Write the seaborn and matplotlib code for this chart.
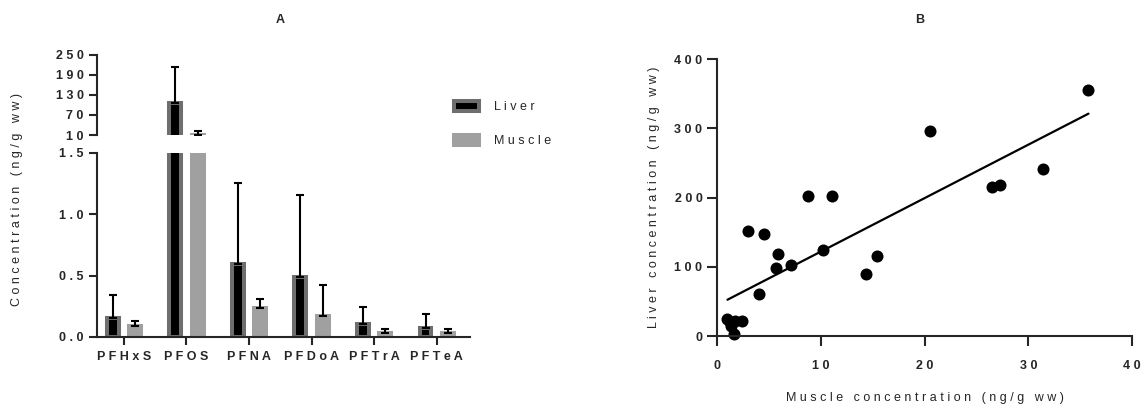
import numpy as np
import pandas as pd
import seaborn as sns
import matplotlib.pyplot as plt

# Panel A data (means and upward SD)
compounds = ['PFHxS', 'PFOS', 'PFNA', 'PFDoA', 'PFTrA', 'PFTeA']
compound_labels = ['P F H x S', 'P F O S', 'P F N A', 'P F D o A', 'P F T r A', 'P F T e A']
tissues = ['Liver', 'Muscle']
tissue_labels = ['L i v e r', 'M u s c l e']
liver_mean = [0.155, 106, 0.595, 0.49, 0.105, 0.075]
liver_sd = [0.185, 109, 0.66, 0.67, 0.14, 0.115]
muscle_mean = [0.09, 10.5, 0.235, 0.175, 0.03, 0.035]
muscle_sd = [0.04, 11.5, 0.075, 0.245, 0.035, 0.027]

upper_ticks = [10, 70, 130, 190, 250]
upper_ticklabels = ['1 0', '7 0', '1 3 0', '1 9 0', '2 5 0']
lower_ticks = [0, 0.5, 1.0, 1.5]
lower_ticklabels = ['0 . 0', '0 . 5', '1 . 0', '1 . 5']

# Panel B data
muscle_conc = [8.8, 11.1, 3.0, 4.5, 20.5, 10.2, 5.9, 5.7, 7.1, 4.0, 14.4, 15.4,
               1.0, 1.3, 1.7, 2.4, 1.6, 1.2, 35.8, 31.4, 26.5, 27.3]
liver_conc = [202, 202, 152, 148, 296, 124, 118, 98, 102, 60, 89, 116,
              25, 14, 22, 22, 3, 20, 355, 241, 215, 218]
b_xticks = [0, 10, 20, 30, 40]
b_xticklabels = ['0', '1 0', '2 0', '3 0', '4 0']
b_yticks = [0, 100, 200, 300, 400]
b_yticklabels = ['0', '1 0 0', '2 0 0', '3 0 0', '4 0 0']

df = pd.DataFrame({
    'compound': compounds * 2,
    'tissue': ['Liver'] * 6 + ['Muscle'] * 6,
    'mean': liver_mean + muscle_mean,
    'sd': liver_sd + muscle_sd,
})

sns.set_style('ticks')
plt.rcParams['font.family'] = ['Liberation Sans', 'DejaVu Sans']
plt.rcParams['axes.linewidth'] = 1.5

palette = {'Liver': 'black', 'Muscle': '#a0a0a0'}
edge_colors = ['#6e6e6e', '#a0a0a0']

fig = plt.figure(figsize=(11.42, 4.07), dpi=100)
ax_top = fig.add_axes([0.0849, 0.6683, 0.3266, 0.1966])
ax_bot = fig.add_axes([0.0849, 0.1720, 0.3266, 0.4521])
ax_b = fig.add_axes([0.6279, 0.1744, 0.3634, 0.6806])


def draw_bars(ax):
    sns.barplot(data=df, x='compound', y='mean', hue='tissue', order=compounds,
                hue_order=tissues, palette=palette, width=0.72, gap=0.47,
                errorbar=None, legend=False, saturation=1, ax=ax)
    bars = list(ax.containers[:2])
    for cont, ec, t in zip(bars, edge_colors, tissues):
        sub = df[df.tissue == t]
        for p in cont:
            p.set_edgecolor(ec)
            p.set_linewidth(2.9)
        xs = [p.get_x() + p.get_width() / 2 for p in cont]
        ax.errorbar(xs, sub['mean'], yerr=[np.zeros(len(sub)), sub['sd']],
                    fmt='none', ecolor='black', elinewidth=1.5, capsize=2.7,
                    capthick=1.5, zorder=3)
    ax.set_xlim(-0.43, 5.53)
    ax.set_xlabel('')
    ax.set_ylabel('')
    ax.tick_params(direction='out', length=6, width=1.5)


draw_bars(ax_top)
ax_top.set_ylim(10, 250)
ax_top.set_yticks(upper_ticks, upper_ticklabels, fontsize=9, fontweight='bold')
ax_top.tick_params(axis='x', bottom=False, labelbottom=False)
sns.despine(ax=ax_top, bottom=True)

draw_bars(ax_bot)
ax_bot.set_ylim(0, 1.5)
ax_bot.set_yticks(lower_ticks, lower_ticklabels, fontsize=9, fontweight='bold')
ax_bot.set_xticks(range(len(compounds)), compound_labels, fontsize=9, fontweight='bold')
ax_bot.tick_params(axis='x', pad=4)
sns.despine(ax=ax_bot)

fig.legend(handles=[ax_bot.containers[0], ax_bot.containers[1]], labels=tissue_labels,
           loc='upper left', bbox_to_anchor=(449 / 1142, 1 - 96 / 407),
           frameon=False, fontsize=9, handlelength=2.0, handleheight=0.9,
           labelspacing=1.7, handletextpad=1.2, borderaxespad=0)

fig.text(17 / 1142, 1 - 199 / 407,
         'C o n c e n t r a t i o n   ( n g / g   w w )',
         rotation=90, ha='center', va='center', fontsize=9)
fig.text(280 / 1142, 1 - 20 / 407, 'A', ha='center', va='center',
         fontsize=9, fontweight='bold')

# Panel B
sns.regplot(x=muscle_conc, y=liver_conc, ci=None, truncate=True, color='black',
            scatter_kws={'s': 75, 'clip_on': False, 'linewidths': 0, 'alpha': 1},
            line_kws={'lw': 1.6}, ax=ax_b)
ax_b.set_xlim(0, 40)
ax_b.set_ylim(0, 400)
ax_b.set_xticks(b_xticks, b_xticklabels, fontsize=9, fontweight='bold')
ax_b.set_yticks(b_yticks, b_yticklabels, fontsize=9, fontweight='bold')
ax_b.tick_params(direction='out', length=7, width=1.5)
ax_b.tick_params(axis='x', pad=10)
ax_b.set_xlabel('M u s c l e   c o n c e n t r a t i o n   ( n g / g   w w )',
                fontsize=9, labelpad=15)
ax_b.set_ylabel('L i v e r   c o n c e n t r a t i o n   ( n g / g   w w )',
                fontsize=9, labelpad=10)
sns.despine(ax=ax_b)
fig.text(920 / 1142, 1 - 20 / 407, 'B', ha='center', va='center',
         fontsize=9, fontweight='bold')

fig.savefig('out.png', dpi=100)
